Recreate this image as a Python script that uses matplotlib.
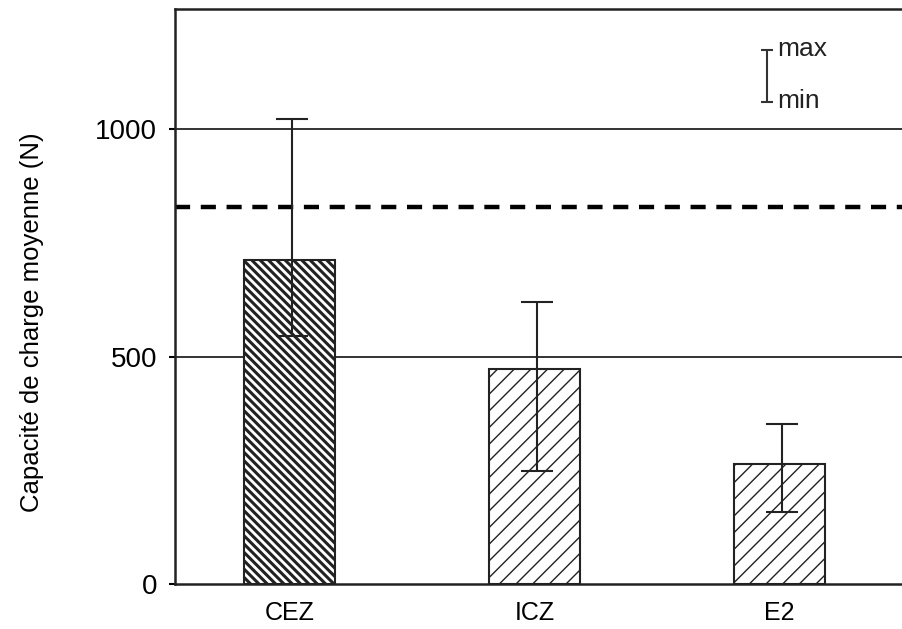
import matplotlib
matplotlib.use("Agg")
import matplotlib.pyplot as plt
import numpy as np

categories = ["CEZ", "ICZ", "E2"]
means = [712, 472, 263]
maxs = [1024, 620, 353]
mins = [546, 249, 159]
reference_line = 829
yticks = [0, 500, 1000]
ylabel = "Capacité de charge moyenne (N)"

plt.rcParams['font.family'] = ['Liberation Sans', 'DejaVu Sans']

fig = plt.figure(figsize=(9.03, 6.29), dpi=100)
ax = fig.add_axes([0.1938, 0.0715, 0.8062, 0.9142])

x = np.arange(len(categories))
hatches = ['\\\\\\\\', '//', '//']
hlw = [2.2, 1.0, 1.0]
for xi, m, h, lw in zip(x, means, hatches, hlw):
    with plt.rc_context({'hatch.linewidth': lw, 'hatch.color': '#222222'}):
        b = ax.bar(xi, m, width=0.37, color='white', edgecolor='#222222',
                   linewidth=1.5, hatch=h, zorder=3)
    for p in b:
        if hasattr(p, 'set_hatch_linewidth'):
            p.set_hatch_linewidth(lw)

means_a = np.array(means)
yerr = np.vstack([means_a - np.array(mins), np.array(maxs) - means_a])
ax.errorbar(x + 0.01, means, yerr=yerr, fmt='none', ecolor='#222222',
            elinewidth=1.5, capsize=11.5, capthick=1.5, zorder=4)

ax.axhline(reference_line, color='black', linewidth=3.2, dashes=(3.4, 2.4), zorder=2)
for yt in [500, 1000]:
    ax.axhline(yt, color='#333333', linewidth=1.4, zorder=1)

# legend symbol
ax.errorbar([1.947], [1117], yerr=[[57], [57]], fmt='none', ecolor='#333333',
            elinewidth=1.5, capsize=4, capthick=1.5)
ax.text(1.99, 1177, "max", fontsize=19, va='center', ha='left', color='#222222')
ax.text(1.99, 1063, "min", fontsize=19, va='center', ha='left', color='#222222')

ax.set_xlim(-0.468, 2.503)
ax.set_ylim(0, 1265)
ax.set_xticks(x)
ax.set_xticklabels(categories, fontsize=18)
ax.set_yticks(yticks)
ax.set_yticklabels([str(t) for t in yticks], fontsize=20)
ax.tick_params(axis='x', length=0, pad=12)
ax.tick_params(axis='y', length=4, width=1.5, direction='out', pad=9)
ax.set_ylabel(ylabel, fontsize=18.5)
ax.yaxis.set_label_coords(-0.180, 0.456)

for s in ['left', 'bottom', 'top']:
    ax.spines[s].set_linewidth(1.8)
    ax.spines[s].set_color('#222222')
ax.spines['right'].set_visible(False)

fig.savefig("out.png", dpi=100)
